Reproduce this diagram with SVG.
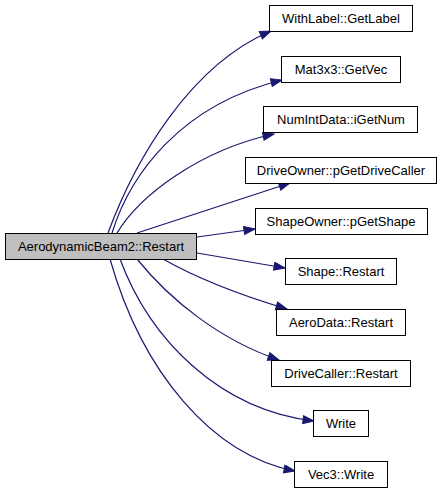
<svg xmlns="http://www.w3.org/2000/svg" width="443" height="493" viewBox="0 0 443 493">
<style>
.box{fill:#ffffff;stroke:#000000;stroke-width:1}
.main{fill:#bfbfbf;stroke:#000000;stroke-width:1}
.lbl{font-family:"Liberation Sans",Arial,Helvetica,sans-serif;font-size:13px;fill:#000000;text-anchor:middle}
.edge{fill:none;stroke:#191970;stroke-width:1.2;marker-end:url(#ah)}
</style>
<defs>
<marker id="ah" markerUnits="userSpaceOnUse" markerWidth="13" markerHeight="10" refX="12" refY="4.5" orient="auto" viewBox="0 0 13 10">
<path d="M1,0.5 L12,4.5 L1,8.5 Z" fill="#191970" stroke="#191970" stroke-width="1"/>
</marker>
</defs>
<rect width="443" height="493" fill="#ffffff"/>
<g id="connectors">
<path class="edge" d="M108,233 C135,160 190,65 271,31"/>
<path class="edge" d="M112,233 C130,175 180,105 282,80"/>
<path class="edge" d="M117,233 C140,195 200,150 274,134"/>
<path class="edge" d="M137,233 L290,183"/>
<path class="edge" d="M197,237 L255,229"/>
<path class="edge" d="M197,253 L285,268"/>
<path class="edge" d="M163,259 C200,280 240,295 287,309"/>
<path class="edge" d="M137,259 C170,300 220,340 279,360"/>
<path class="edge" d="M120,259 C150,340 220,410 314,421"/>
<path class="edge" d="M110,259 C142,372 212,455 295,471"/>
</g>
<g id="n_main"><rect class="main" x="5.5" y="233.5" width="191" height="26"/><text class="lbl" x="101" y="251">AerodynamicBeam2::Restart</text></g>
<g id="n_withlabel"><rect class="box" x="269.5" y="5.5" width="143" height="26"/><text class="lbl" x="341" y="23">WithLabel::GetLabel</text></g>
<g id="n_mat3x3"><rect class="box" x="281.5" y="56.5" width="119" height="26"/><text class="lbl" x="341" y="74">Mat3x3::GetVec</text></g>
<g id="n_numint"><rect class="box" x="263.5" y="106.5" width="154" height="26"/><text class="lbl" x="341" y="124">NumIntData::iGetNum</text></g>
<g id="n_driveowner"><rect class="box" x="245.5" y="157.5" width="191" height="26"/><text class="lbl" x="341" y="175">DriveOwner::pGetDriveCaller</text></g>
<g id="n_shapeowner"><rect class="box" x="255.5" y="208.5" width="172" height="26"/><text class="lbl" x="341" y="226">ShapeOwner::pGetShape</text></g>
<g id="n_shape"><rect class="box" x="285.5" y="258.5" width="111" height="26"/><text class="lbl" x="341" y="276">Shape::Restart</text></g>
<g id="n_aerodata"><rect class="box" x="276.5" y="309.5" width="129" height="26"/><text class="lbl" x="341" y="327">AeroData::Restart</text></g>
<g id="n_drivecaller"><rect class="box" x="271.5" y="360.5" width="139" height="26"/><text class="lbl" x="341" y="378">DriveCaller::Restart</text></g>
<g id="n_write"><rect class="box" x="313.5" y="410.5" width="55" height="26"/><text class="lbl" x="341" y="428">Write</text></g>
<g id="n_vec3"><rect class="box" x="294.5" y="461.5" width="93" height="26"/><text class="lbl" x="341" y="479">Vec3::Write</text></g>
</svg>
